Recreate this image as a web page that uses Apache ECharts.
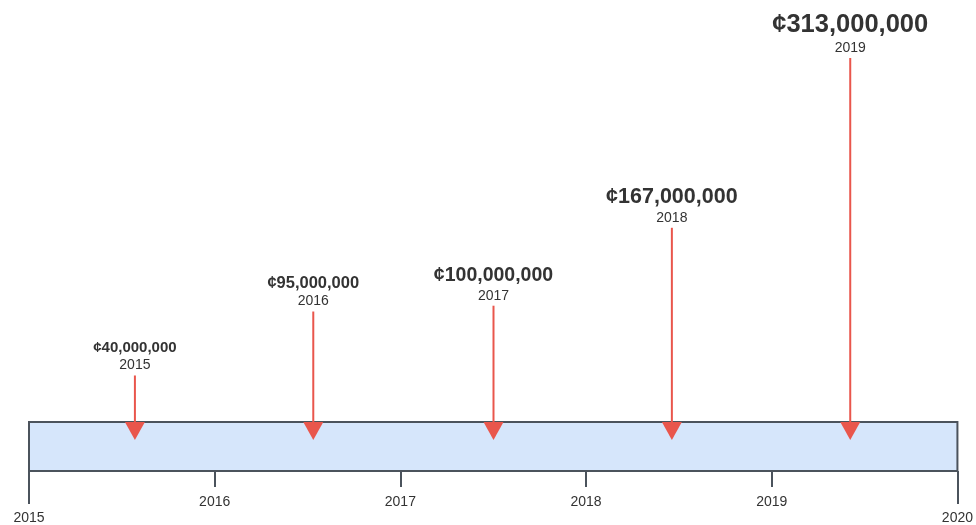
<!DOCTYPE html>
<html>
<head>
<meta charset="utf-8">
<script src="https://cdn.jsdelivr.net/npm/echarts@6/dist/echarts.min.js"></script>
<style>
  html, body { margin: 0; padding: 0; background: #ffffff; }
  #chart { width: 976px; height: 525px; }
</style>
</head>
<body>
<div id="chart"></div>
<script>
// Funding milestones along a 2015–2020 timeline
const years = ['2015', '2016', '2017', '2018', '2019'];
// where each milestone sits on the timeline (fractional year)
const timelinePoints = [2015.57, 2016.53, 2017.50, 2018.46, 2019.42];
// amounts in millions of colones
const amountsMillions = [40, 95, 100, 167, 313];
const axisTicksInner = [2016, 2017, 2018, 2019];
const axisTicksEnds = [2015, 2020];

// label type sizes per milestone
const valueFontSizes = [15, 16.5, 19.5, 21.5, 25.5];

const RED = '#e9564c';
const TEXT = '#333333';
const FONT = '"Liberation Sans", Arial, sans-serif';

function formatColones(m) {
  return '¢' + (m * 1000000).toLocaleString('en-US');
}

const milestoneData = years.map((y, i) => [timelinePoints[i], amountsMillions[i], i]);

const chart = echarts.init(document.getElementById('chart'), null, { renderer: 'canvas' });

chart.setOption({
  animation: false,
  backgroundColor: '#ffffff',
  grid: [
    // arrows
    { left: 29, right: 18, top: 58, bottom: 103, show: false },
    // timeline band
    {
      left: 29, right: 18, top: 422, height: 50, show: true,
      backgroundColor: '#d6e6fb', borderColor: '#4b535c', borderWidth: 2
    }
  ],
  xAxis: [
    { gridIndex: 0, type: 'value', min: 2015, max: 2020, show: false },
    {
      gridIndex: 1, type: 'value', min: 2015, max: 2020, interval: 1,
      position: 'bottom', offset: 0,
      axisLine: { show: false },
      splitLine: { show: false },
      axisTick: {
        show: true, length: 16, customValues: axisTicksInner,
        lineStyle: { color: '#4b535c', width: 2 }
      },
      axisLabel: {
        show: true, customValues: axisTicksInner, margin: 24,
        color: TEXT, fontSize: 14, fontFamily: FONT,
        formatter: v => String(v)
      }
    },
    {
      gridIndex: 1, type: 'value', min: 2015, max: 2020, interval: 1,
      position: 'bottom', offset: 0,
      axisLine: { show: false },
      splitLine: { show: false },
      axisTick: {
        show: true, length: 33, customValues: axisTicksEnds,
        lineStyle: { color: '#4b535c', width: 2 }
      },
      axisLabel: {
        show: true, customValues: axisTicksEnds, margin: 40,
        color: TEXT, fontSize: 14, fontFamily: FONT,
        showMinLabel: true, showMaxLabel: true,
        formatter: v => String(v)
      }
    }
  ],
  yAxis: [
    { gridIndex: 0, type: 'value', min: 0, max: 'dataMax', show: false },
    { gridIndex: 1, type: 'value', min: 0, max: 1, show: false }
  ],
  series: [
    {
      type: 'custom',
      xAxisIndex: 0,
      yAxisIndex: 0,
      data: milestoneData,
      z: 10,
      renderItem: function (params, api) {
        const i = api.value(2);
        const top = api.coord([api.value(0), api.value(1)]);
        const base = api.coord([api.value(0), 0]);
        const x = top[0];
        const headH = 18, headW = 20;
        const yearY = top[1] - 10;
        return {
          type: 'group',
          children: [
            {
              type: 'line',
              shape: { x1: x, y1: top[1], x2: x, y2: base[1] + 2 },
              style: { stroke: RED, lineWidth: 2 }
            },
            {
              type: 'polygon',
              shape: { points: [[x - headW / 2, base[1]], [x + headW / 2, base[1]], [x, base[1] + headH]] },
              style: { fill: RED }
            },
            {
              type: 'text',
              style: {
                text: years[i], x: x, y: yearY,
                align: 'center', verticalAlign: 'middle',
                fontSize: 14, fontFamily: FONT, fill: TEXT
              }
            },
            {
              type: 'text',
              style: {
                text: formatColones(api.value(1)), x: x, y: yearY - 10,
                align: 'center', verticalAlign: 'bottom',
                fontSize: valueFontSizes[i], fontWeight: 'bold',
                fontFamily: FONT, fill: TEXT
              }
            }
          ]
        };
      }
    }
  ]
});
</script>
</body>
</html>
